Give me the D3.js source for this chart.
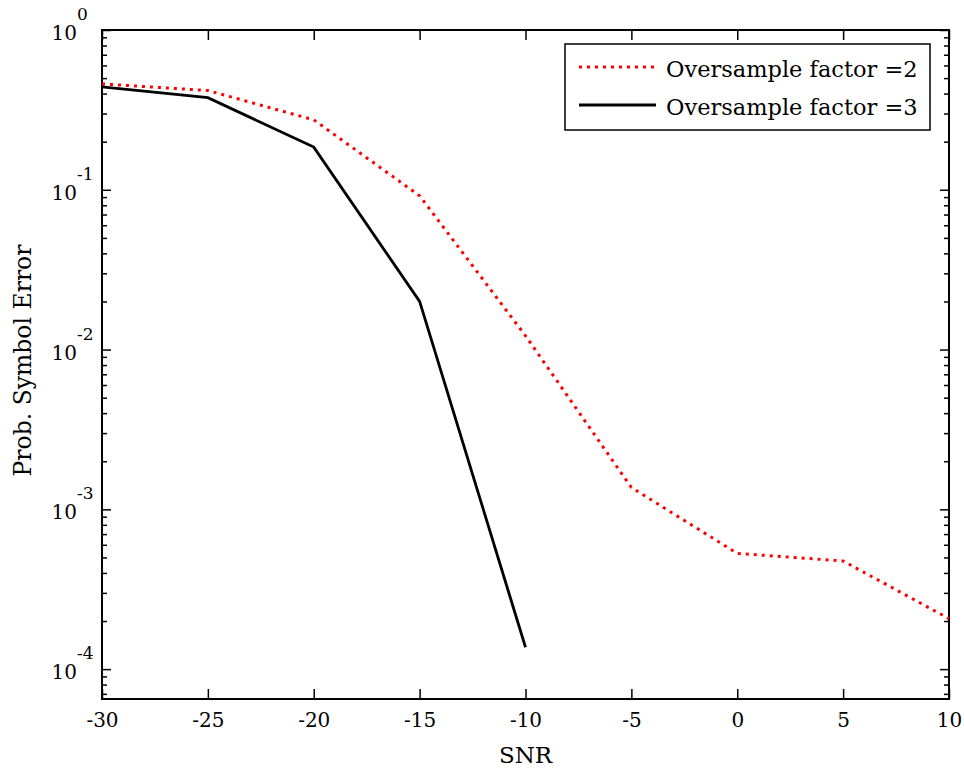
<!DOCTYPE html>
<html><head><meta charset="utf-8">
<script src="https://cdn.jsdelivr.net/npm/d3@7"></script>
<style>
html,body{margin:0;padding:0;background:#fff;}
svg{display:block;}
text{font-family:"DejaVu Serif",serif;fill:#000;}
</style></head>
<body>
<svg id="chart" width="964" height="769"></svg>
<script>
// ---- data ----
const snr2 = [-30, -25, -20, -15, -10, -5, 0, 5, 10];
const pe2  = [0.46, 0.418, 0.274, 0.0917, 0.0122, 0.00137, 0.00053, 0.000475, 0.000207];
const snr3 = [-30, -25, -20, -15, -10];
const pe3  = [0.44, 0.377, 0.185, 0.0200, 0.000137];
const xTickValues = [-30, -25, -20, -15, -10, -5, 0, 5, 10];
const yExponents = [0, -1, -2, -3, -4];
const seriesNames = ["Oversample factor =2", "Oversample factor =3"];
const xLabel = "SNR";
const yLabel = "Prob. Symbol Error";

// ---- layout ----
const L = 102, R = 949, T = 30, B = 699;
const svg = d3.select("#chart");
const x = d3.scaleLinear().domain([-30, 10]).range([L, R]);
const y = d3.scaleLog().domain([Math.pow(10, -4.187), 1]).range([B, T]);

const majorY = yExponents.map(e => Math.pow(10, e));
const minorY = [];
for (let e = -5; e <= -1; e++) for (let m = 2; m <= 9; m++) {
  const v = m * Math.pow(10, e);
  if (v >= y.domain()[0] && v <= 1) minorY.push(v);
}

function styleAxis(g) {
  g.select(".domain").remove();
  g.selectAll("line").attr("stroke", "#000").attr("stroke-width", 1.5);
}

// bottom axis
svg.append("g").attr("transform", `translate(0,${B})`)
  .call(d3.axisBottom(x).tickValues(xTickValues).tickSize(-10).tickPadding(14).tickFormat(d => String(d)))
  .call(styleAxis)
  .call(g => g.selectAll("text").attr("font-size", 20).attr("font-family", "DejaVu Serif").attr("dy", "0.71em"));
// top axis
svg.append("g").attr("transform", `translate(0,${T})`)
  .call(d3.axisTop(x).tickValues(xTickValues).tickSize(-10).tickFormat(""))
  .call(styleAxis);
// left major/minor
svg.append("g").attr("transform", `translate(${L},0)`)
  .call(d3.axisLeft(y).tickValues(majorY).tickSize(-9).tickFormat(""))
  .call(styleAxis);
svg.append("g").attr("transform", `translate(${L},0)`)
  .call(d3.axisLeft(y).tickValues(minorY).tickSize(-5).tickFormat(""))
  .call(styleAxis);
// right major/minor
svg.append("g").attr("transform", `translate(${R},0)`)
  .call(d3.axisRight(y).tickValues(majorY).tickSize(-9).tickFormat(""))
  .call(styleAxis);
svg.append("g").attr("transform", `translate(${R},0)`)
  .call(d3.axisRight(y).tickValues(minorY).tickSize(-5).tickFormat(""))
  .call(styleAxis);

// y tick labels with superscripts
const yl = svg.append("g");
yExponents.forEach(e => {
  const yy = y(Math.pow(10, e));
  yl.append("text").attr("x", 77).attr("y", yy + 10).attr("text-anchor", "end")
    .attr("font-size", 20).text("10");
  yl.append("text").attr("x", 77).attr("y", yy - 10).attr("text-anchor", "start")
    .attr("font-size", 17).text(String(e));
});

// box
svg.append("rect").attr("x", L).attr("y", T).attr("width", R - L).attr("height", B - T)
  .attr("fill", "none").attr("stroke", "#000").attr("stroke-width", 2);

// lines
const line = d3.line().x(d => x(d[0])).y(d => y(d[1]));
svg.append("path").datum(snr2.map((s, i) => [s, pe2[i]]))
  .attr("d", line).attr("fill", "none").attr("stroke", "#ff0000")
  .attr("stroke-width", 3).attr("stroke-dasharray", "3 5");
svg.append("path").datum(snr3.map((s, i) => [s, pe3[i]]))
  .attr("d", line).attr("fill", "none").attr("stroke", "#000")
  .attr("stroke-width", 2.8);

// axis labels
svg.append("text").attr("x", (L + R) / 2).attr("y", 763).attr("text-anchor", "middle")
  .attr("font-size", 23).text(xLabel);
svg.append("text").attr("transform", `translate(31,${(T + B) / 2 - 4}) rotate(-90)`)
  .attr("text-anchor", "middle").attr("font-size", 23.5).text(yLabel);

// legend
const lg = svg.append("g");
lg.append("rect").attr("x", 565).attr("y", 44).attr("width", 365).attr("height", 86)
  .attr("fill", "#fff").attr("stroke", "#000").attr("stroke-width", 1.5);
const legendStyles = [
  {color: "#ff0000", dash: "3 5", width: 3},
  {color: "#000", dash: null, width: 3}
];
seriesNames.forEach((name, i) => {
  const yy = 67 + i * 38;
  const ln = lg.append("line").attr("x1", 579).attr("x2", 656).attr("y1", yy).attr("y2", yy)
    .attr("stroke", legendStyles[i].color).attr("stroke-width", legendStyles[i].width);
  if (legendStyles[i].dash) ln.attr("stroke-dasharray", legendStyles[i].dash);
  lg.append("text").attr("x", 666).attr("y", yy + 10).attr("font-size", 22.5).text(name);
});
</script>
</body></html>
